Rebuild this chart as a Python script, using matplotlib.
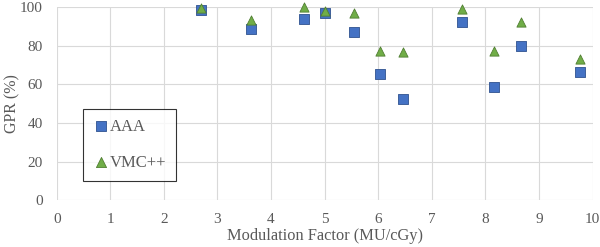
import matplotlib
matplotlib.use("Agg")
import matplotlib.pyplot as plt

# donnees
mf = [2.69, 3.62, 4.62, 5.0, 5.54, 6.04, 6.46, 7.56, 8.17, 8.67, 9.76]
gpr_aaa = [98.6, 88.9, 93.8, 97.2, 87.3, 65.6, 52.4, 92.2, 58.7, 80.2, 66.5]
gpr_vmc = [99.8, 93.4, 100.0, 98.0, 97.0, 77.6, 76.9, 99.3, 77.3, 92.4, 73.3]

plt.rcParams['font.family'] = ['Liberation Serif', 'DejaVu Serif']

fig = plt.figure(figsize=(6, 2.47), dpi=100)
ax = fig.add_axes([0.0945, 0.19, 0.893, 0.78])

ax.scatter(mf, gpr_aaa, marker='s', s=42, color='#4472C4', edgecolor='#2F528F',
           linewidth=0.6, label='AAA', zorder=3, clip_on=False)
ax.scatter(mf, gpr_vmc, marker='^', s=44, color='#70AD47', edgecolor='#507E32',
           linewidth=0.6, label='VMC++', zorder=4, clip_on=False)

ax.set_xlim(0, 10)
ax.set_ylim(0, 100)
ax.set_xticks(range(0, 11))
ax.set_yticks(range(0, 101, 20))
ax.grid(True, color='#D9D9D9', linewidth=0.8)
ax.set_axisbelow(True)
for s in ax.spines.values():
    s.set_visible(False)
ax.tick_params(axis='x', length=0, labelsize=11, colors='#595959', pad=9)
ax.tick_params(axis='y', length=0, labelsize=11, colors='#595959', pad=10)

ax.set_xlabel('Modulation Factor (MU/cGy)', fontsize=11.8, color='#595959', labelpad=2)
ax.set_ylabel('GPR (%)', fontsize=11.5, color='#595959')
ax.yaxis.set_label_coords(-0.068, 0.5)

leg = ax.legend(loc='lower left', bbox_to_anchor=(0.049, 0.10), fontsize=12,
                frameon=True, fancybox=False, labelspacing=1.2, handletextpad=0.0,
                borderpad=0.6, handlelength=1.0, borderaxespad=0, markerscale=1.1)
leg.get_frame().set_edgecolor('black')
leg.get_frame().set_linewidth(0.8)
for t in leg.get_texts():
    t.set_color('#595959')

fig.savefig('out.png', dpi=100)
